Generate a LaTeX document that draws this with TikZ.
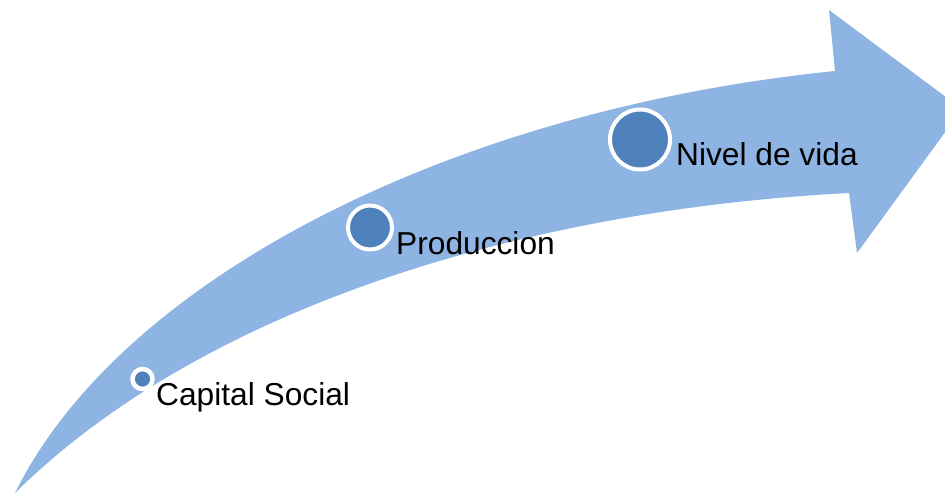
\documentclass[tikz,border=0pt]{standalone}
\usepackage{fontspec}
\setmainfont{Liberation Sans}
\definecolor{arrowblue}{HTML}{8EB4E3}
\definecolor{dotblue}{HTML}{4F81BD}
\begin{document}
\begin{tikzpicture}[x=1pt,y=-1pt,
  arrowbody/.style={fill=arrowblue, draw=none},
  dot/.style={circle, fill=dotblue, draw=white, line width=4pt, inner sep=0pt},
  lbl/.style={anchor=base west, inner sep=0pt, font=\fontsize{31.7}{38}\selectfont}]
\useasboundingbox (0,0) rectangle (945,495);
\clip (0,0) rectangle (945,495);
\path[arrowbody] (15,493) .. controls (120,280) and (450,110) .. (835,71)
  -- (829,10) -- (962,109) -- (857,253) -- (849,193)
  .. controls (520,210) and (200,310) .. (15,493) -- cycle;
\node[dot, minimum size=20pt, line width=4.5pt] (c1) at (142.5,379) {};
\node[dot, minimum size=44pt] (c2) at (370,227.5) {};
\node[dot, minimum size=60pt] (c3) at (640,139.5) {};
\node[lbl] (t1) at (156,405) {Capital Social};
\node[lbl] (t2) at (396,254) {Produccion};
\node[lbl] (t3) at (676,165) {Nivel de vida};
\end{tikzpicture}
\end{document}
